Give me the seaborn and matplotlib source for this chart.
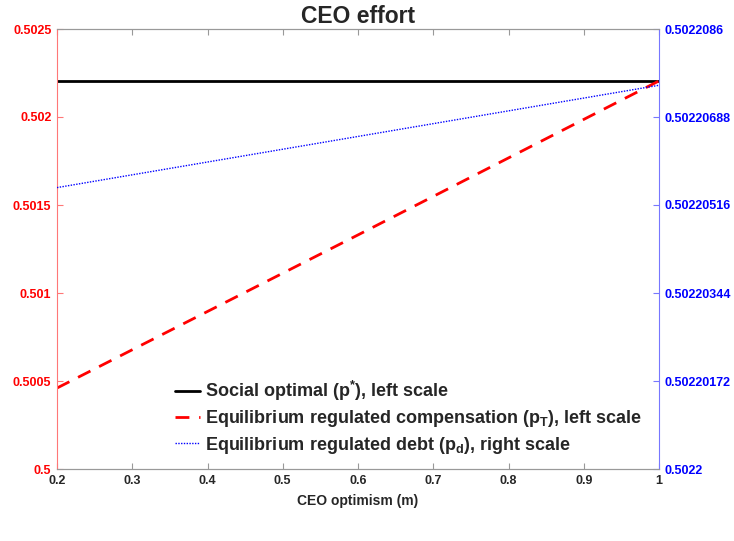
import matplotlib
matplotlib.use("Agg")
import matplotlib.pyplot as plt
import seaborn as sns
import pandas as pd
from matplotlib.ticker import FixedLocator, FixedFormatter

# Data
m_values = [0.2, 0.6, 1.0]
social_optimal = [0.502205, 0.502205, 0.502205]
regulated_comp = [0.50046, 0.50133, 0.502205]
regulated_debt = [0.5022055, 0.5022065, 0.5022075]

left_ticks = [0.5, 0.5005, 0.501, 0.5015, 0.502, 0.5025]
left_labels = ["0.5", "0.5005", "0.501", "0.5015", "0.502", "0.5025"]
right_ticks = [0.5022, 0.50220172, 0.50220344, 0.50220516, 0.50220688, 0.5022086]
right_labels = ["0.5022", "0.50220172", "0.50220344", "0.50220516", "0.50220688", "0.5022086"]
x_ticks = [0.2, 0.3, 0.4, 0.5, 0.6, 0.7, 0.8, 0.9, 1.0]
x_labels = ["0.2", "0.3", "0.4", "0.5", "0.6", "0.7", "0.8", "0.9", "1"]

sns.set_style("white")
plt.rcParams['font.family'] = ['Liberation Sans', 'DejaVu Sans']
plt.rcParams['font.weight'] = 'bold'
plt.rcParams['mathtext.fontset'] = 'custom'
plt.rcParams['mathtext.rm'] = 'Liberation Sans:bold'
plt.rcParams['mathtext.it'] = 'Liberation Sans:bold'
plt.rcParams['mathtext.bf'] = 'Liberation Sans:bold'

df = pd.DataFrame({"m": m_values, "social": social_optimal,
                   "comp": regulated_comp, "debt": regulated_debt})

fig = plt.figure(figsize=(7.34, 5.41), dpi=100)
ax = fig.add_axes([57/734, 1-469/541, (659-57)/734, (469-29)/541])
ax2 = ax.twinx()

sns.lineplot(data=df, x="m", y="social", ax=ax, color="black", linewidth=2, label=None)
sns.lineplot(data=df, x="m", y="comp", ax=ax, color="red", linewidth=2, label=None)
ax.lines[-1].set_linestyle((0, (5, 3.5)))
sns.lineplot(data=df, x="m", y="debt", ax=ax2, color="blue", linewidth=1, label=None)
ax2.lines[-1].set_linestyle((0, (1, 1)))

ax.set_xlim(0.2, 1.0)
ax.set_ylim(0.5, 0.5025)
ax2.set_ylim(0.5022, 0.5022086)

ax.xaxis.set_major_locator(FixedLocator(x_ticks))
ax.xaxis.set_major_formatter(FixedFormatter(x_labels))
ax.yaxis.set_major_locator(FixedLocator(left_ticks))
ax.yaxis.set_major_formatter(FixedFormatter(left_labels))
ax2.yaxis.set_major_locator(FixedLocator(right_ticks))
ax2.yaxis.set_major_formatter(FixedFormatter(right_labels))

for a in (ax, ax2):
    for s in a.spines.values():
        s.set_linewidth(0.8)
        s.set_color("#999999")
ax.spines['left'].set_color("#ff7777")
ax2.spines['left'].set_visible(False)
ax2.spines['right'].set_color("#7777ff")
ax.spines['right'].set_visible(False)

ax.tick_params(axis='x', direction='in', length=4, colors="#262626", labelsize=9,
               top=True, bottom=True, pad=4)
ax.tick_params(axis='x', color="#999999")
ax.tick_params(axis='y', direction='in', length=4, colors="red", labelsize=9, pad=4)
ax.tick_params(axis='y', color="#ff7777")
ax2.tick_params(axis='y', direction='in', length=4, colors="blue", labelsize=9, pad=4)
ax2.tick_params(axis='y', color="#7777ff")
for lab in ax.get_xticklabels() + ax.get_yticklabels() + ax2.get_yticklabels():
    lab.set_fontweight('bold')

ax.set_ylabel("")
ax2.set_ylabel("")
ax.set_xlabel("CEO optimism (m)", fontsize=10, fontweight='bold', color="#262626", labelpad=5)
ax.set_title("CEO effort", fontsize=16.5, fontweight='bold', pad=4)

h = [ax.lines[0], ax.lines[1], ax2.lines[0]]
labels = [r"Social optimal (p$^{*}$), left scale",
          r"Equilibrium regulated compensation (p$_{T}$), left scale",
          r"Equilibrium regulated debt (p$_{d}$), right scale"]
leg = ax2.legend(h, labels, loc='lower left', bbox_to_anchor=(0.196, 0.03),
                 frameon=False, handlelength=1.4, handletextpad=0.25,
                 borderaxespad=0, borderpad=0,
                 prop={'weight': 'bold', 'size': 13}, labelspacing=0.3)

fig.savefig("out.png", dpi=100)
